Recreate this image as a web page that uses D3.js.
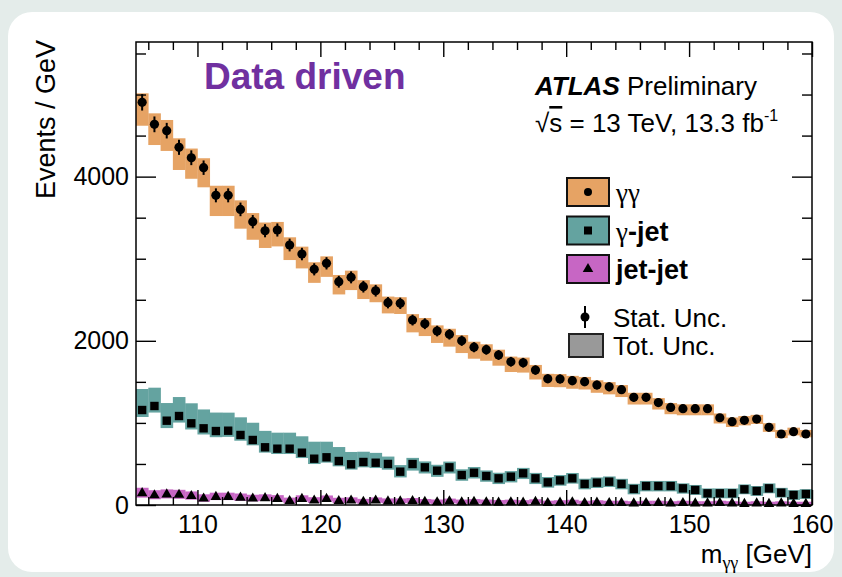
<!DOCTYPE html>
<html>
<head>
<meta charset="utf-8">
<script src="https://d3js.org/d3.v7.min.js"></script>
<style>
  body { margin: 0; background: #e4ecea; }
  svg { display: block; font-family: "Liberation Sans", Arial, sans-serif; }
  .greek { font-family: "Liberation Serif", "DejaVu Serif", serif; }
</style>
</head>
<body>
<svg id="chart" width="842" height="577"></svg>
<script>
// bin lower edges, 1 GeV bins
var binLow = [105,106,107,108,109,110,111,112,113,114,115,116,117,118,119,120,121,122,123,124,
              125,126,127,128,129,130,131,132,133,134,135,136,137,138,139,140,141,142,143,144,
              145,146,147,148,149,150,151,152,153,154,155,156,157,158,159];
var binWidth = 1;

var xTicks = [110, 120, 130, 140, 150, 160];
var xMinorTicks = [106,108,112,114,116,118,122,124,126,128,132,134,136,138,142,144,146,148,152,154,156,158];
var yTicks = [0, 2000, 4000];
var yMinorTicks = [500,1000,1500,2500,3000,3500,4500,5000,5500];

// gamma-gamma
var ggVal = [4905,4637,4560,4357,4230,4109,3772,3772,3601,3451,3341,3350,3167,3057,2871,2944,2720,2773,2659,2610,
             2464,2457,2253,2208,2119,2079,2001,1922,1892,1827,1745,1733,1644,1538,1535,1514,1502,1462,1440,1405,
             1312,1312,1248,1188,1173,1173,1173,1063,1015,1032,1047,946,865,893,865];
var ggStat = [100,96,95,92,90,88,85,85,83,81,80,80,78,76,74,75,72,73,71,71,69,69,66,66,65,64,63,62,61,60,
              59,59,57,55,55,55,55,54,54,53,51,51,50,49,48,48,48,46,45,46,46,44,42,42,42];
var ggTotUp = [110,134,130,110,112,115,117,117,110,105,100,98,94,90,86,85,82,82,80,78,75,74,72,70,69,68,69,67,66,65,
               63,63,62,60,60,59,58,57,57,56,55,55,54,54,53,53,53,52,51,51,51,50,49,49,49];
var ggTotDn = [285,252,247,276,256,239,252,252,235,220,210,200,183,175,165,165,155,155,150,140,130,130,150,150,145,150,150,140,135,130,
               125,120,115,100,100,98,95,95,92,90,88,88,85,82,80,80,80,70,65,62,60,55,50,45,40];

// gamma-jet
var gjVal = [1157,1206,1027,1084,995,934,901,905,853,792,703,686,686,637,564,581,536,496,524,515,
             500,406,499,459,418,459,365,393,353,325,345,386,325,276,300,325,256,272,284,256,
             195,231,231,231,203,183,142,142,142,191,171,203,150,122,134];
var gjStat = [30,30,29,29,28,28,27,27,27,26,25,25,25,24,23,23,22,21,22,22,21,19,21,20,19,20,18,19,18,17,
              18,19,17,16,17,17,16,16,16,16,14,15,15,15,14,13,12,12,12,13,13,14,12,11,11];
var gjTotUp = [256,223,215,231,244,230,225,220,215,210,200,195,195,200,207,190,170,150,125,120,
               90,80,75,72,72,70,70,70,68,68,68,66,66,65,65,65,64,64,64,63,63,62,62,62,61,61,60,60,60,60,60,60,59,59,59];
var gjTotDn = [85,80,90,80,75,75,75,75,70,65,65,65,65,65,65,65,65,65,65,65,70,70,80,75,75,75,70,70,70,70,
               70,70,70,65,65,65,65,65,65,65,65,65,65,65,65,60,60,60,60,60,60,60,60,60,60];

// jet-jet
var jjVal = [150,125,135,130,115,85,105,105,95,85,90,80,55,80,60,80,55,60,45,60,
             50,50,55,45,40,50,40,45,40,35,40,35,45,30,35,40,30,35,30,30,
             25,30,30,25,30,25,25,30,25,20,25,20,25,20,20];
var jjStat = [30,28,29,28,27,24,26,26,25,24,24,23,20,23,20,23,20,20,18,20,18,18,19,18,17,18,17,17,16,15,
              16,15,17,14,15,16,14,15,14,14,13,14,14,13,14,13,13,14,13,12,13,12,13,12,12];
var jjTot = [60,55,55,55,50,45,45,45,45,40,40,40,35,38,35,36,33,33,30,32,30,30,30,28,27,28,26,27,26,25,
             25,24,25,23,23,24,22,23,22,22,21,22,22,21,22,21,21,22,21,20,21,20,20,20,20];

var colGG = "#e6a364", colGJ = "#64a3a0", colJJ = "#c766c4";

var svg = d3.select("#chart");

// white panel
svg.append("rect")
    .attr("x", 8).attr("y", 12)
    .attr("width", 826).attr("height", 560)
    .attr("rx", 24)
    .attr("fill", "#ffffff");

var x = d3.scaleLinear().domain([105, 160]).range([136, 812]);
var y = d3.scaleLinear().domain([0, 5640]).range([505, 42]);

function makeSeries(vals, stat, up, dn) {
    return binLow.map(function(lo, i) {
        return {lo: lo, c: lo + binWidth / 2, v: vals[i], s: stat[i], up: up[i], dn: dn[i]};
    });
}
var gg = makeSeries(ggVal, ggStat, ggTotUp, ggTotDn);
var gj = makeSeries(gjVal, gjStat, gjTotUp, gjTotDn);
var jj = makeSeries(jjVal, jjStat, jjTot, jjTot);

var plot = svg.append("g").attr("class", "plot-area");

function drawBands(data, color, cls) {
    plot.append("g").attr("class", cls)
      .selectAll("rect")
      .data(data)
      .enter().append("rect")
        .attr("x", function(d) { return x(d.lo); })
        .attr("width", function(d) { return x(d.lo + binWidth) - x(d.lo) + 0.3; })
        .attr("y", function(d) { return y(d.v + d.up); })
        .attr("height", function(d) { return y(Math.max(0, d.v - d.dn)) - y(d.v + d.up); })
        .attr("fill", color);
}
drawBands(jj, colJJ, "band-jj");
drawBands(gj, colGJ, "band-gj");
drawBands(gg, colGG, "band-gg");

function drawStat(data) {
    plot.append("g")
      .selectAll("line")
      .data(data)
      .enter().append("line")
        .attr("x1", function(d) { return x(d.c); })
        .attr("x2", function(d) { return x(d.c); })
        .attr("y1", function(d) { return y(Math.max(0, d.v - d.s)); })
        .attr("y2", function(d) { return y(d.v + d.s); })
        .attr("stroke", "#000").attr("stroke-width", 2);
}
drawStat(jj);
drawStat(gj);
drawStat(gg);

var tri = d3.symbol().type(d3.symbolTriangle).size(48);
plot.append("g").selectAll("path")
    .data(jj).enter().append("path")
    .attr("d", tri)
    .attr("transform", function(d) { return "translate(" + x(d.c) + "," + (y(d.v) + 0.5) + ")"; })
    .attr("fill", "#000");

plot.append("g").selectAll("rect")
    .data(gj).enter().append("rect")
    .attr("x", function(d) { return x(d.c) - 4.2; })
    .attr("y", function(d) { return y(d.v) - 4.2; })
    .attr("width", 8.4).attr("height", 8.4)
    .attr("fill", "#000");

plot.append("g").selectAll("circle")
    .data(gg).enter().append("circle")
    .attr("cx", function(d) { return x(d.c); })
    .attr("cy", function(d) { return y(d.v); })
    .attr("r", 4.6)
    .attr("fill", "#000");

// axes (ticks pointing inward)
function styleAxis(g) {
    g.select(".domain").remove();
    g.selectAll("line").attr("stroke", "#000").attr("stroke-width", 1.4);
    g.selectAll("text").attr("fill", "#000").attr("font-size", 25)
        .attr("font-family", "Liberation Sans, Arial, sans-serif");
}

var xAxis = d3.axisBottom(x).tickValues(xTicks).tickSizeInner(-15).tickSizeOuter(0).tickPadding(10),
    xAxisMinor = d3.axisBottom(x).tickValues(xMinorTicks).tickSizeInner(-8).tickSizeOuter(0).tickFormat(""),
    xAxisTop = d3.axisTop(x).tickValues(xTicks).tickSizeInner(-15).tickSizeOuter(0).tickFormat(""),
    xAxisTopMinor = d3.axisTop(x).tickValues(xMinorTicks).tickSizeInner(-8).tickSizeOuter(0).tickFormat(""),
    yAxis = d3.axisLeft(y).tickValues(yTicks).tickSizeInner(-20).tickSizeOuter(0).tickPadding(7).tickFormat(d3.format("d")),
    yAxisMinor = d3.axisLeft(y).tickValues(yMinorTicks).tickSizeInner(-10).tickSizeOuter(0).tickFormat(""),
    yAxisRight = d3.axisRight(y).tickValues(yTicks).tickSizeInner(-20).tickSizeOuter(0).tickFormat(""),
    yAxisRightMinor = d3.axisRight(y).tickValues(yMinorTicks).tickSizeInner(-10).tickSizeOuter(0).tickFormat("");

svg.append("g").attr("class", "x axis").attr("transform", "translate(0,505)").call(xAxis).call(styleAxis);
svg.append("g").attr("class", "x axis minor").attr("transform", "translate(0,505)").call(xAxisMinor).call(styleAxis);
svg.append("g").attr("class", "x axis top").attr("transform", "translate(0,42)").call(xAxisTop).call(styleAxis);
svg.append("g").attr("class", "x axis top minor").attr("transform", "translate(0,42)").call(xAxisTopMinor).call(styleAxis);
svg.append("g").attr("class", "y axis").attr("transform", "translate(136,0)").call(yAxis).call(styleAxis);
svg.append("g").attr("class", "y axis minor").attr("transform", "translate(136,0)").call(yAxisMinor).call(styleAxis);
svg.append("g").attr("class", "y axis right").attr("transform", "translate(812,0)").call(yAxisRight).call(styleAxis);
svg.append("g").attr("class", "y axis right minor").attr("transform", "translate(812,0)").call(yAxisRightMinor).call(styleAxis);

// frame
svg.append("rect")
    .attr("x", 136).attr("y", 42)
    .attr("width", 812 - 136).attr("height", 505 - 42)
    .attr("fill", "none").attr("stroke", "#000").attr("stroke-width", 1.5);

// axis titles
svg.append("text")
    .attr("transform", "translate(55,40) rotate(-90)")
    .attr("text-anchor", "end")
    .attr("font-size", 27)
    .text("Events / GeV");

var xt = svg.append("text")
    .attr("x", 812).attr("y", 563)
    .attr("text-anchor", "end")
    .attr("font-size", 26);
xt.append("tspan").text("m");
xt.append("tspan").attr("class", "greek").attr("font-size", 18).attr("dy", 6).text("\u03b3\u03b3");
xt.append("tspan").attr("dy", -6).text(" [GeV]");

// labels
svg.append("text")
    .attr("x", 204).attr("y", 89)
    .attr("font-size", 37).attr("font-weight", "bold")
    .attr("fill", "#7030a0")
    .text("Data driven");

var atl = svg.append("text").attr("x", 535).attr("y", 95).attr("font-size", 26);
atl.append("tspan").attr("font-weight", "bold").attr("font-style", "italic").text("ATLAS");
atl.append("tspan").text(" Preliminary");

var lum = svg.append("text").attr("x", 535).attr("y", 132).attr("font-size", 26);
lum.append("tspan").text("\u221a");
lum.append("tspan").attr("text-decoration", "overline").text("s");
lum.append("tspan").text(" = 13 TeV, 13.3 fb");
lum.append("tspan").attr("font-size", 16).attr("dy", -11).text("-1");

// legend
var legendItems = [
    {label: "\u03b3\u03b3", color: colGG, marker: "circle"},
    {label: "-jet", color: colGJ, marker: "square"},
    {label: "jet-jet", color: colJJ, marker: "triangle"}
];
var leg = svg.append("g").attr("class", "legend");
legendItems.forEach(function(it, i) {
    var ly = 178 + i * 38.5;
    leg.append("rect")
        .attr("x", 567).attr("y", ly)
        .attr("width", 42).attr("height", 28)
        .attr("fill", it.color).attr("stroke", "#111").attr("stroke-width", 2);
    var cx = 588, cy = ly + 14;
    if (it.marker === "circle") {
        leg.append("circle").attr("cx", cx).attr("cy", cy).attr("r", 4).attr("fill", "#000");
    } else if (it.marker === "square") {
        leg.append("rect").attr("x", cx - 4).attr("y", cy - 4).attr("width", 8).attr("height", 8).attr("fill", "#000");
    } else {
        leg.append("path").attr("d", tri).attr("transform", "translate(" + cx + "," + cy + ")").attr("fill", "#000");
    }
    var gt = leg.append("text").attr("x", 616).attr("y", ly + 24).attr("font-size", 27);
    if (i === 0) {
        gt.append("tspan").attr("class", "greek").text(it.label);
    } else if (i === 1) {
        gt.append("tspan").attr("class", "greek").text("\u03b3");
        gt.append("tspan").attr("font-weight", "bold").text(it.label);
    } else {
        gt.attr("font-weight", "bold").text(it.label);
    }
});

leg.append("line").attr("x1", 585).attr("x2", 585).attr("y1", 306).attr("y2", 328)
    .attr("stroke", "#000").attr("stroke-width", 2);
leg.append("circle").attr("cx", 585).attr("cy", 317).attr("r", 4.5).attr("fill", "#000");
leg.append("text").attr("x", 613).attr("y", 327).attr("font-size", 26).text("Stat. Unc.");
leg.append("rect").attr("x", 569).attr("y", 334).attr("width", 34).attr("height", 23)
    .attr("fill", "#999999").attr("stroke", "#222").attr("stroke-width", 2);
leg.append("text").attr("x", 613).attr("y", 355).attr("font-size", 26).text("Tot. Unc.");
</script>
</body>
</html>
